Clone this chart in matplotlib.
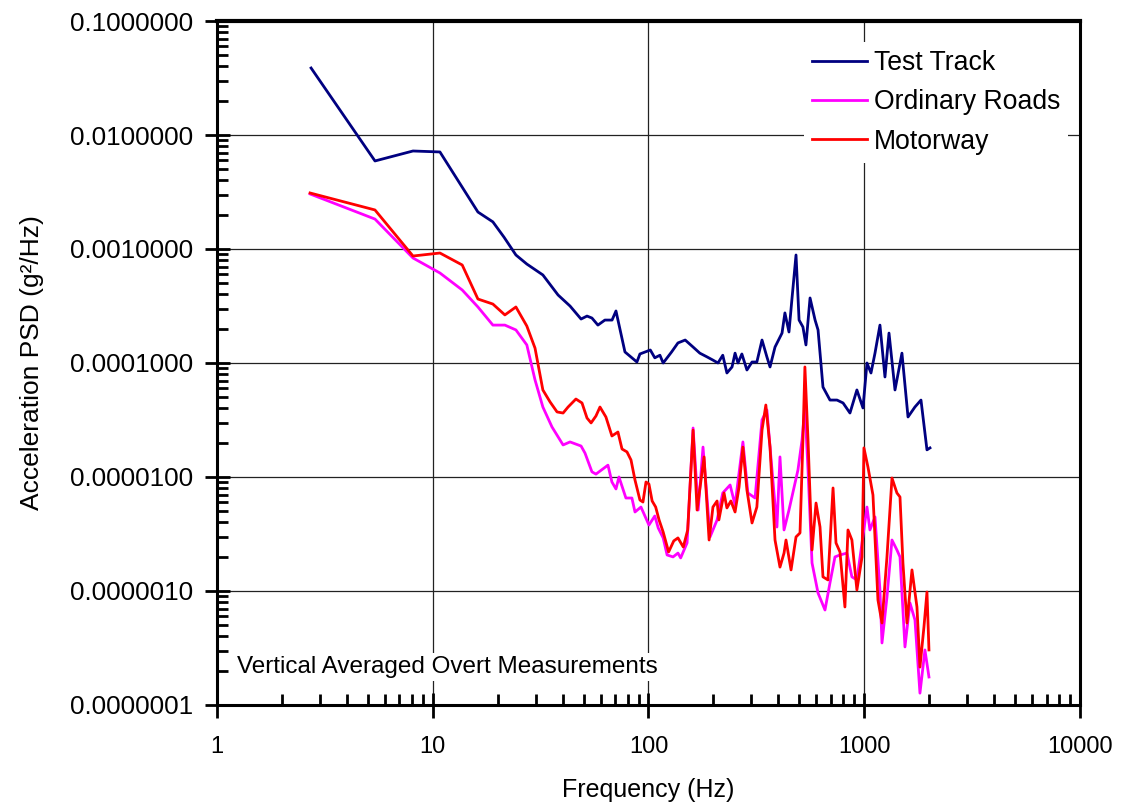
import numpy as np
import matplotlib.pyplot as plt
from matplotlib.ticker import LogLocator, FormatStrFormatter, FuncFormatter, NullFormatter

plt.rcParams['font.family'] = ['Liberation Sans', 'DejaVu Sans']

# Test Track
track_f = [2.73, 5.40, 8.10, 10.8, 16.2, 19.0, 21.4, 24.3, 27.3, 32.4, 38.1, 43.3,
           48.7, 51.9, 54.7, 58.3, 62.8, 67.8, 70.7, 77.8, 88.4, 91.3, 102, 107,
           113, 117, 128, 137, 148, 161, 173, 187, 199, 210, 221, 231, 244, 252,
           260, 271, 286, 302, 318, 336, 354, 366, 386, 416, 429, 448, 462, 483,
           499, 520, 537, 561, 592, 611, 644, 694, 748, 798, 859, 925, 987, 1030,
           1075, 1122, 1183, 1248, 1303, 1389, 1496, 1596, 1718, 1833, 1954, 2018]
track_psd = [0.0387, 0.00592, 0.00724, 0.00710, 0.00211, 0.00173, 0.00127, 0.000886,
             0.000738, 0.000592, 0.000395, 0.000316, 0.000243, 0.000258, 0.000248,
             0.000215, 0.000238, 0.000238, 0.000286, 0.000125, 0.000102, 0.000120,
             0.000130, 0.000111, 0.000117, 0.000100, 0.000125, 0.000150, 0.000159,
             0.000138, 0.000122, 0.000113, 0.000106, 0.000100, 0.000117, 0.0000817,
             0.0000923, 0.000122, 0.000100, 0.000120, 0.0000868, 0.000102, 0.000102,
             0.000159, 0.000113, 0.0000923, 0.000138, 0.000183, 0.000275, 0.000187,
             0.000357, 0.000886, 0.000238, 0.000207, 0.000144, 0.000372, 0.000238,
             0.000195, 0.0000615, 0.0000473, 0.0000473, 0.0000446, 0.0000364,
             0.0000580, 0.0000403, 0.000100, 0.0000817, 0.000122, 0.000215,
             0.0000754, 0.000183, 0.0000580, 0.000122, 0.0000336, 0.0000411,
             0.0000473, 0.0000173, 0.0000180]

# Ordinary Roads
roads_f = [2.70, 5.40, 8.10, 10.8, 13.7, 16.2, 19.0, 21.6, 24.3, 27.3, 29.8, 32.4,
           35.7, 40.2, 43.3, 48.7, 50.8, 54.7, 57.1, 64.9, 67.7, 70.7, 73.0, 78.6,
           83.8, 86.6, 92.3, 100.5, 107, 111, 117, 122, 130, 137, 141, 151, 161,
           170, 179, 193, 208, 221, 239, 252, 274, 289, 312, 336, 354, 366, 394,
           407, 425, 448, 493, 515, 531, 549, 573, 611, 658, 694, 732, 772, 832,
           877, 925, 977, 1030, 1063, 1122, 1183, 1209, 1275, 1345, 1418, 1465,
           1545, 1630, 1719, 1813, 1912, 1996]
roads_psd = [0.00304, 0.00183, 0.000834, 0.000616, 0.000437, 0.000310, 0.000215,
             0.000215, 0.000195, 0.000144, 0.0000710, 0.0000411, 0.0000275,
             0.0000191, 0.0000203, 0.0000187, 0.0000162, 0.0000111, 0.0000106,
             0.0000127, 0.00000904, 0.00000785, 0.0000100, 0.00000654, 0.00000654,
             0.00000493, 0.00000545, 0.00000379, 0.00000455, 0.00000357, 0.00000292,
             0.00000207, 0.00000199, 0.00000215, 0.00000195, 0.00000264, 0.0000269,
             0.00000513, 0.0000183, 0.00000298, 0.00000420, 0.00000724, 0.00000851,
             0.00000568, 0.0000203, 0.00000724, 0.00000654, 0.0000316, 0.0000387,
             0.0000183, 0.00000364, 0.0000150, 0.00000343, 0.00000513, 0.0000115,
             0.0000211, 0.0000411, 0.0000115, 0.00000176, 0.00000096, 0.000000681,
             0.00000118, 0.00000199, 0.00000207, 0.00000215, 0.00000133, 0.00000125,
             0.00000264, 0.00000545, 0.00000343, 0.00000446, 0.00000102, 0.000000350,
             0.000000886, 0.00000280, 0.00000229, 0.00000199, 0.000000323,
             0.000000785, 0.000000557, 0.000000127, 0.000000304, 0.000000176]

# Motorway
motor_f = [2.70, 5.40, 8.10, 10.8, 13.7, 16.2, 19.0, 21.6, 24.3, 27.3, 29.8, 32.4,
           35.0, 37.7, 40.2, 42.4, 46.1, 49.2, 51.9, 54.2, 57.1, 59.6, 63.5, 67.7,
           72.2, 75.4, 79.5, 83.0, 86.6, 91.3, 94.3, 97.4, 100.5, 104, 108, 112,
           117, 124, 131, 137, 145, 152, 161, 168, 181, 191, 199, 208, 212, 224,
           231, 241, 252, 263, 274, 286, 302, 318, 336, 350, 366, 386, 407, 425,
           434, 458, 483, 504, 520, 531, 549, 573, 598, 624, 644, 679, 717, 740,
           772, 814, 841, 877, 925, 977, 997, 1041, 1098, 1158, 1209, 1275, 1345,
           1418, 1465, 1512, 1578, 1665, 1756, 1813, 1892, 1954, 1996]
motor_psd = [0.00310, 0.00220, 0.000868, 0.000922, 0.000724, 0.000364, 0.000329,
             0.000264, 0.000310, 0.000211, 0.000135, 0.0000580, 0.0000455,
             0.0000372, 0.0000364, 0.0000411, 0.0000483, 0.0000446, 0.0000329,
             0.0000298, 0.0000343, 0.0000411, 0.0000336, 0.0000229, 0.0000248,
             0.0000176, 0.0000166, 0.0000141, 0.00000941, 0.00000628, 0.00000603,
             0.00000904, 0.00000868, 0.00000616, 0.00000545, 0.00000420, 0.00000329,
             0.00000220, 0.00000275, 0.00000292, 0.00000243, 0.00000343, 0.0000258,
             0.00000513, 0.0000150, 0.00000280, 0.00000545, 0.00000616, 0.00000420,
             0.00000724, 0.00000535, 0.00000616, 0.00000493, 0.00000818, 0.0000183,
             0.00000769, 0.00000395, 0.00000545, 0.0000258, 0.0000428, 0.0000183,
             0.00000280, 0.00000162, 0.00000215, 0.00000280, 0.00000153, 0.00000298,
             0.00000323, 0.0000211, 0.0000923, 0.0000211, 0.00000229, 0.00000591,
             0.00000364, 0.00000133, 0.00000125, 0.00000801, 0.00000264, 0.00000220,
             0.000000724, 0.00000343, 0.00000280, 0.00000102, 0.00000199, 0.0000180,
             0.0000122, 0.00000695, 0.000000834, 0.000000524, 0.00000199, 0.00000980,
             0.00000724, 0.00000668, 0.00000176, 0.000000524, 0.00000153,
             0.000000724, 0.000000215, 0.000000483, 0.00000098, 0.000000304]

fig = plt.figure(figsize=(11.26, 8.08), dpi=100)
ax = fig.add_axes([0.1927, 0.1275, 0.7664, 0.8465])

ax.plot(track_f, track_psd, color='#000080', lw=2, label='Test Track', zorder=3)
ax.plot(roads_f, roads_psd, color='#FF00FF', lw=2, label='Ordinary Roads', zorder=3)
ax.plot(motor_f, motor_psd, color='#FF0000', lw=2, label='Motorway', zorder=3)

ax.set_xscale('log')
ax.set_yscale('log')
ax.set_xlim(1, 10000)
ax.set_ylim(1e-7, 0.1)

ax.xaxis.set_major_locator(LogLocator(base=10, numticks=10))
ax.xaxis.set_minor_locator(LogLocator(base=10, subs=np.arange(2, 10), numticks=20))
ax.yaxis.set_major_locator(LogLocator(base=10, numticks=10))
ax.yaxis.set_minor_locator(LogLocator(base=10, subs=np.arange(2, 10), numticks=20))
ax.xaxis.set_major_formatter(FuncFormatter(lambda v, p: '%d' % round(v)))
ax.yaxis.set_major_formatter(FormatStrFormatter('%.7f'))
ax.xaxis.set_minor_formatter(NullFormatter())
ax.yaxis.set_minor_formatter(NullFormatter())

ax.tick_params(which='major', direction='inout', length=18, width=2)
ax.tick_params(which='minor', direction='in', length=8, width=2)
ax.tick_params(axis='y', which='major', labelsize=18.7, pad=8)
ax.tick_params(axis='x', which='major', labelsize=17, pad=13)

for s in ax.spines.values():
    s.set_linewidth(2.2)
ax.spines['top'].set_linewidth(3)

ax.grid(True, which='major', color='#222222', lw=0.9)
ax.set_axisbelow(True)

ax.set_xlabel('Frequency (Hz)', fontsize=18, labelpad=15)
ax.set_ylabel('Acceleration PSD (g²/Hz)', fontsize=19, labelpad=19)

ax.text(1.238, 1.91e-7, 'Vertical Averaged Overt Measurements', fontsize=17.5,
        va='baseline', ha='left', zorder=4,
        bbox=dict(facecolor='white', edgecolor='none', pad=2))

leg = ax.legend(loc='upper left', bbox_to_anchor=(0.714, 0.948),
                bbox_transform=fig.transFigure, borderaxespad=0, fontsize=19.2,
                frameon=True, handlelength=2.05, handletextpad=0.28,
                labelspacing=0.5, borderpad=0.3)
leg.get_frame().set_edgecolor('none')
leg.get_frame().set_facecolor('white')
leg.get_frame().set_alpha(1)

fig.savefig('out.png', dpi=100)
